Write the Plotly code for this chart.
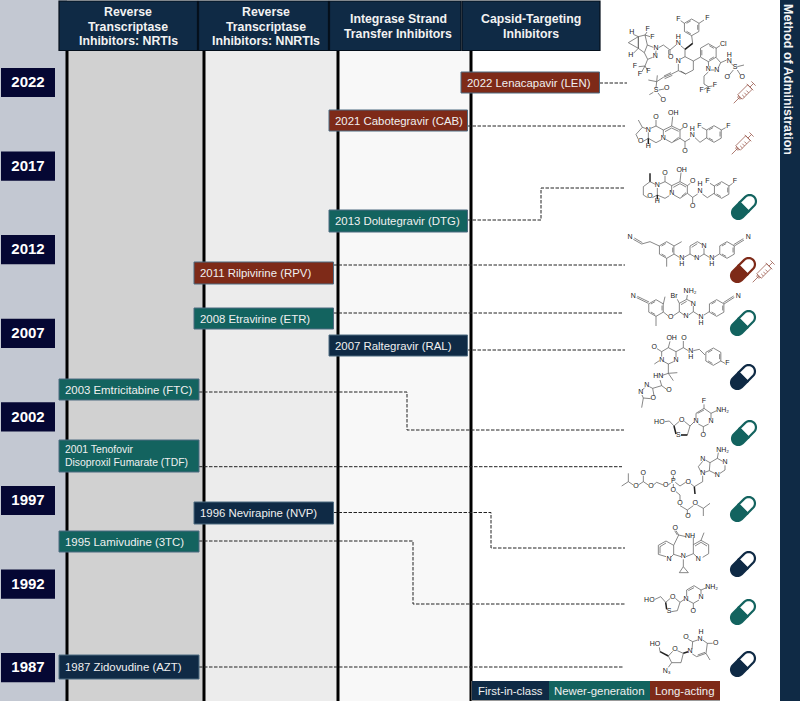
import numpy as np
import plotly.graph_objects as go

# ---------- data ----------
YEAR_TICKS = [2022, 2017, 2012, 2007, 2002, 1997, 1992, 1987]
HEADERS = [["Reverse", "Transcriptase", "Inhibitors: NRTIs"], ["Reverse", "Transcriptase", "Inhibitors: NNRTIs"],
           ["Integrase Strand", "Transfer Inhibitors"], ["Capsid-Targeting", "Inhibitors"]]
DRUG_LABELS = [["2022 Lenacapavir (LEN)"], ["2021 Cabotegravir (CAB)"], ["2013 Dolutegravir (DTG)"], ["2011 Rilpivirine (RPV)"],
               ["2008 Etravirine (ETR)"], ["2007 Raltegravir (RAL)"], ["2003 Emtricitabine (FTC)"],
               ["2001 Tenofovir", "Disoproxil Fumarate (TDF)"], ["1996 Nevirapine (NVP)"], ["1995 Lamivudine (3TC)"],
               ["1987 Zidovudine (AZT)"]]
DRUG_GROUP = ["long", "long", "newer", "long", "newer", "first", "newer", "newer", "first", "newer", "first"]
DRUG_COLUMN = [3, 2, 2, 1, 1, 2, 0, 0, 1, 0, 0]
DRUG_ADMIN = [("syringe",), ("syringe",), ("pill",), ("pill", "syringe"), ("pill",), ("pill",), ("pill",), ("pill",),
              ("pill",), ("pill",), ("pill",)]
LEGEND = [("first", "First-in-class"), ("newer", "Newer-generation"), ("long", "Long-acting")]

# ---------- layout (pixels of the page, separate from the data) ----------
NAVY, MIDNIGHT, TEAL, RED = "#0f2a45", "#050733", "#13635f", "#7e2a18"
GROUP_COLOR = {"first": NAVY, "newer": TEAL, "long": RED}
FONT = "Liberation Sans, Arial, sans-serif"
PX_PER_YEAR = 16.72
Y_TOP, Y_BOTTOM = 2022 + 82.5 / PX_PER_YEAR, 2022 - 618.5 / PX_PER_YEAR
COL_EDGE = [67, 204, 338, 471]
COL_FILL = ["#d1d1d1", "#ececec", "#f8f8f8"]
HEAD_X = [(59, 197.5), (198.5, 328.5), (329.5, 461), (462, 600)]
HEAD_CX = [128, 266, 398, 531]
BOX_X = [(59, 199), (194, 333.5), (329, 467.5), (461, 599.5)]
BOX_Y = [(72, 93), (110, 131), (210, 232), (262, 284), (308, 329), (335, 356), (379, 400), (440, 472), (502, 524),
         (531, 552), (655, 679)]
BOX_FONT = [11.4, 11.4, 11.4, 11.4, 11.4, 11.4, 11.4, 10.4, 11.4, 11.4, 11.4]
LINK_PATH = [[(83,), (627,)], [(126,), (625,)], [(220,), (541, 188), (625,)], [(265,), (625,)], [(313,), (623,)],
             [(350,), (625,)], [(392,), (407, 430), (624,)], [(466.7,), (622,)], [(512.5,), (491, 548), (625,)],
             [(541,), (413, 604), (625,)], [(667,), (624,)]]
PILL_C = {2: (744, 207), 3: (743, 270), 4: (743, 323), 5: (743, 377), 6: (744, 433), 7: (743, 509), 8: (743, 564),
          9: (743, 612), 10: (743, 664)}
SYR_C = {0: (745, 92), 1: (743, 143), 3: (764, 271)}

fig = go.Figure()
shapes, annotations = [], []


def rect(x0, x1, y0, y1, fill, line=None, lw=1, yref="y2"):
    shapes.append(dict(type="rect", xref="x", yref=yref, x0=x0, x1=x1, y0=y0, y1=y1, fillcolor=fill,
                       line=dict(color=line or fill, width=lw if line else 0), layer="below"))


def seg(pts, color, width, dash=None):
    path = "M" + "L".join(f"{x:.2f},{y:.2f}" for x, y in pts)
    shapes.append(dict(type="path", xref="x", yref="y2", path=path,
                       line=dict(color=color, width=width, dash=dash), layer="below"))


def label(x, y, text, size, color="#f2f2f2", bold=False, xanchor="center", angle=0, yref="y2", align="center"):
    annotations.append(dict(x=x, y=y, xref="x", yref=yref, text=f"<b>{text}</b>" if bold else text, showarrow=False,
                            font=dict(family=FONT, size=size, color=color), xanchor=xanchor, yanchor="middle",
                            textangle=angle, align=align))


# background strips
rect(0, COL_EDGE[0], 0, 701, "#c3c8d2")
for i, f in enumerate(COL_FILL):
    rect(COL_EDGE[i], COL_EDGE[i + 1], 51, 701, f)
for x in COL_EDGE:
    seg([(x, 51), (x, 701)], "#000000", 3)
rect(780, 800, 0, 701, NAVY)
label(788.5, 79.5, "Method of Administration", 12.5, "#f4f4f4", True, angle=90)

# headers
for (x0, x1), cx, h in zip(HEAD_X, HEAD_CX, HEADERS):
    rect(x0, x1, 1, 50.5, NAVY, "#05101c", 1.2)
    start = 26.5 - 14.6 * (len(h) - 1) / 2
    for k, line in enumerate(h):
        label(cx, start + 14.6 * k, line, 12.3, "#f2f2f2", True)

# connectors
for i, path in enumerate(LINK_PATH):
    y = path[0][0]
    pts = [(BOX_X[DRUG_COLUMN[i]][1], y)]
    for p in path[1:]:
        if len(p) == 2:
            pts += [(p[0], y), (p[0], p[1])]
            y = p[1]
        else:
            pts.append((p[0], y))
    seg(pts, "#222222", 1, "3.5px,1.5px")

# year boxes, placed on the year axis
for yr in YEAR_TICKS:
    rect(1, 55, yr + 14.6 / PX_PER_YEAR, yr - 14.6 / PX_PER_YEAR, MIDNIGHT, yref="y")
fig.add_trace(go.Scatter(x=[28] * len(YEAR_TICKS), y=[y - 1 / PX_PER_YEAR for y in YEAR_TICKS], mode="text",
                         text=[f"<b>{y}</b>" for y in YEAR_TICKS],
                         textfont=dict(family=FONT, size=15, color="#ffffff"), xaxis="x", yaxis="y", hoverinfo="skip",
                         showlegend=False))

# drug boxes
for lab, grp, col, (y0, y1), fs in zip(DRUG_LABELS, DRUG_GROUP, DRUG_COLUMN, BOX_Y, BOX_FONT):
    x0, x1 = BOX_X[col]
    rect(x0, x1, y0, y1, GROUP_COLOR[grp], "#4d6a80", 1)
    start = (y0 + y1) / 2 - 6.2 * (len(lab) - 1)
    for k, line in enumerate(lab):
        label(x0 + 3.5, start + 12.4 * k, line, fs, "#f0f0f0", xanchor="left", align="left")

# legend
LEG_X = [472, 549, 650, 720]
rect(LEG_X[0] - 0.5, LEG_X[3], 681, 701, "#999999")
for i, (g, t) in enumerate(LEGEND):
    rect(LEG_X[i], LEG_X[i + 1], 681, 700, GROUP_COLOR[g])
    label((LEG_X[i] + LEG_X[i + 1]) / 2, 691, t, 11.4, "#f0f0f0")

# pills and syringes
TH = np.radians(45)


def rot(cx, cy, u, v):
    u, v = np.asarray(u, float), np.asarray(v, float)
    return cx + u * np.cos(TH) + v * np.sin(TH), cy - u * np.sin(TH) + v * np.cos(TH)


def poly(xs, ys, close=True):
    return "M" + "L".join(f"{x:.2f},{y:.2f}" for x, y in zip(xs, ys)) + ("Z" if close else "")


def pill(cx, cy, color):
    L, R = 8, 6.3
    a = np.linspace(np.pi / 2, -np.pi / 2, 17)
    u_half = np.concatenate([[0], L + R * np.cos(a), [0]])
    v_half = np.concatenate([[R], R * np.sin(a), [-R]])
    for sign, fill in ((1, "#ffffff"), (-1, color)):
        x, y = rot(cx, cy, sign * u_half, v_half)
        shapes.append(dict(type="path", xref="x", yref="y2", path=poly(x, y), fillcolor=fill,
                           line=dict(color=color, width=2.2), layer="above"))


def syringe(cx, cy, color):
    parts = [([-7, 7, 7, -7], [3.2, 3.2, -3.2, -3.2], True), ([-16, -7], [0, 0], False), ([7, 12], [0, 0], False),
             ([12, 12], [-3, 3], False), ([7, 7], [-4.6, 4.6], False), ([-4, -4], [3.2, 0], False), ([-1, -1], [3.2, 0], False),
             ([2, 2], [3.2, 0], False), ([-7, -9, -9, -7], [2.2, 1, -1, -2.2], False)]
    for u, v, c in parts:
        x, y = rot(cx, cy, u, v)
        shapes.append(dict(type="path", xref="x", yref="y2", path=poly(x, y, c),
                           line=dict(color="#9a5a4e", width=0.8), layer="above"))


for i, admin in enumerate(DRUG_ADMIN):
    color = GROUP_COLOR[DRUG_GROUP[i]]
    if "pill" in admin:
        pill(*PILL_C[i], color)
    if "syringe" in admin:
        syringe(*SYR_C[i], RED)


# molecule drawings: traced skeleton and atoms, in crop units (1/3 px) with an origin
def ring(cx, cy, r, n=6, start=90):
    t = np.radians(start + np.arange(n + 1) * 360 / n)
    return [(cx + r * np.cos(a), cy - r * np.sin(a)) for a in t]


def arom(cx, cy, r, start=90):
    """A hexagon with its three inner double bonds."""
    inner = []
    for k in (0, 2, 4):
        a0, a1 = np.radians(start + k * 60 + 8), np.radians(start + (k + 1) * 60 - 8)
        inner.append([(cx + 0.78 * r * np.cos(a0), cy - 0.78 * r * np.sin(a0)),
                      (cx + 0.78 * r * np.cos(a1), cy - 0.78 * r * np.sin(a1))])
    return [ring(cx, cy, r, 6, start)] + inner


Z2, Z3, Z4 = (400, 0), (600, 220), (600, 440)
MOLS = [
    (Z2, [*arom(875, 82, 25), [(853, 70), (842, 62)], [(897, 70), (912, 60)], [(875, 107), (878, 130), (855, 148), (842, 137)],
          [(828, 135), (810, 150), (790, 135), (776, 143)], [(810, 150), (810, 164)], [(806, 150), (806, 164)],
          [(760, 142), (742, 135), (733, 158), (743, 178), (758, 172)], [(768, 152), (767, 163)],
          [(742, 135), (735, 105), (715, 110), (715, 145), (733, 158)], [(685, 128), (715, 110), (715, 145), (685, 128)],
          [(700, 103), (715, 110)], [(700, 160), (715, 145)], [(735, 105), (741, 96)], [(735, 105), (750, 110)],
          [(743, 178), (735, 198), (716, 200)], [(735, 198), (742, 210)], [(735, 198), (725, 216)],
          [(842, 177), (855, 170), (880, 183), (880, 210), (857, 222), (842, 213)], [(835, 192), (835, 212), (857, 222)],
          [(855, 148), (855, 170)], [(880, 183), (900, 172)], *arom(925, 158, 27, 30),
          [(948, 145), (960, 137)], [(925, 185), (926, 200)], [(933, 210), (943, 210)], [(955, 203), (962, 188), (948, 172)],
          [(962, 188), (980, 180)], [(993, 190), (1000, 197)], [(1000, 210), (987, 226)], [(1012, 210), (1022, 226)],
          [(1012, 200), (1032, 195)], [(925, 216), (912, 228), (912, 252), (925, 260)], [(925, 260), (912, 268)],
          [(925, 260), (938, 258)], [(925, 260), (925, 268)],
          [(835, 212), (815, 222), (790, 232), (770, 245)], [(813, 218), (792, 228)], [(817, 226), (794, 236)],
          [(770, 245), (745, 240)], [(770, 245), (772, 226)], [(770, 245), (768, 263)], [(776, 270), (793, 267)],
          [(774, 279), (785, 293)], [(760, 277), (748, 284)]],
     [[(878, 130), (855, 148)]],
     [("F", 835, 58), ("F", 922, 55), ("H", 835, 113), ("N", 835, 130), ("O", 812, 172), ("N", 768, 146), ("N", 766, 170),
      ("F", 743, 88), ("F", 757, 112), ("H", 695, 97), ("H", 692, 167), ("F", 705, 200), ("F", 745, 215), ("F", 720, 223),
      ("N", 835, 183), ("Cl", 970, 133), ("N", 925, 208), ("N", 950, 210), ("N", 988, 185), ("H", 988, 165), ("S", 1005, 203),
      ("O", 982, 233), ("O", 1027, 233), ("F", 905, 270), ("F", 945, 257), ("F", 925, 275), ("S", 768, 272), ("O", 800, 266),
      ("O", 790, 300)]),
    (Z2, [[(715, 360), (727, 382), (708, 403), (715, 418)], [(728, 425), (745, 415), (745, 397)], [(727, 382), (739, 386)],
          [(752, 385), (768, 378), (790, 390), (790, 408)], [(783, 420), (768, 428), (745, 415)], [(768, 378), (768, 360)],
          [(790, 390), (815, 378), (840, 390), (840, 415), (815, 428), (797, 418)], [(815, 378), (818, 350)],
          [(840, 390), (849, 383)], [(840, 415), (855, 425), (855, 445)], [(855, 425), (870, 416)],
          [(885, 413), (900, 427), (920, 413)], *arom(942, 402, 25), [(920, 390), (905, 382)], [(964, 390), (977, 383)],
          [(795, 395), (815, 384), (836, 394)], [(820, 424), (836, 412)]],
     [[(745, 415), (745, 432)]],
     [("O", 768, 352), ("OH", 820, 340), ("O", 855, 378), ("H", 877, 387), ("N", 877, 407), ("F", 898, 378), ("F", 985, 378),
      ("N", 745, 390), ("N", 790, 415), ("O", 722, 423), ("H", 745, 440), ("O", 855, 453)]),
    (Z2, [[(750, 545), (730, 560), (730, 585), (743, 593)], [(757, 593), (772, 585), (772, 564)], [(750, 545), (766, 553)],
          [(779, 552), (795, 545), (815, 557), (815, 574)], [(808, 587), (795, 595), (772, 585)], [(795, 545), (795, 527)],
          [(815, 557), (840, 545), (862, 557), (862, 580), (840, 595), (822, 585)], [(840, 545), (843, 518)], [(862, 557), (871, 550)],
          [(862, 580), (878, 592), (878, 610)], [(878, 592), (893, 582)], [(907, 582), (922, 593), (942, 580)], *arom(965, 570, 25),
          [(943, 558), (930, 550)], [(987, 558), (998, 550)], [(845, 589), (858, 578)], [(820, 562), (840, 551), (858, 561)]],
     [[(750, 520), (750, 545)], [(772, 585), (772, 598)]],
     [("O", 795, 520), ("OH", 845, 510), ("O", 878, 545), ("H", 900, 554), ("N", 900, 574), ("F", 922, 545), ("F", 1005, 545),
      ("N", 772, 557), ("N", 815, 580), ("O", 750, 590), ("H", 772, 605), ("O", 878, 618)]),
    (Z3, [[(100, 58), (125, 72), (150, 65), (178, 78)], [(103, 54), (127, 68)], *arom(200, 90, 25), [(222, 78), (245, 65)],
          [(200, 115), (200, 140)], [(222, 102), (238, 112)], [(252, 112), (270, 102), (270, 78), (292, 65), (306, 73)],
          [(312, 85), (312, 102), (298, 111)], [(285, 111), (270, 102)], [(312, 102), (328, 112)], [(342, 112), (358, 102)],
          [(275, 82), (292, 71)], *arom(381, 90, 25), [(403, 78), (432, 60)], [(401, 74), (430, 56)]],
     [],
     [("N", 90, 52), ("N", 245, 115), ("H", 245, 133), ("N", 312, 78), ("N", 290, 115), ("N", 335, 115), ("H", 335, 133), ("N", 445, 52)]),
    (Z3, [[(110, 233), (145, 250)], [(112, 229), (147, 246)], *arom(168, 264, 25), [(190, 252), (195, 230)], [(168, 289), (168, 318)],
          [(190, 276), (205, 288)], [(220, 287), (238, 275), (238, 250), (260, 238), (274, 245)], [(280, 258), (280, 275), (266, 285)],
          [(252, 285), (238, 275)], [(243, 254), (260, 244)], [(238, 250), (232, 238)], [(260, 238), (262, 225)], [(280, 275), (296, 285)], [(312, 285), (328, 275)],
          *arom(350, 264, 25), [(372, 252), (403, 232)], [(370, 248), (401, 228)]],
     [],
     [("N", 100, 228), ("O", 212, 292), ("Br", 222, 228), ("N", 258, 290), ("N", 280, 252), ("NH₂", 270, 215), ("N", 303, 292),
      ("H", 303, 310), ("N", 415, 228)]),
    (Z3, [[(185, 410), (185, 395), (205, 383), (228, 395), (228, 412)], [(221, 425), (205, 432), (192, 425)], [(185, 395), (171, 386)],
          [(205, 383), (210, 364)], [(228, 395), (250, 383), (250, 363)], [(250, 383), (265, 392)], [(280, 392), (298, 388), (315, 405)],
          *arom(340, 410, 26), [(362, 423), (375, 430)], [(178, 422), (163, 432)], [(205, 432), (205, 460), (187, 466)],
          [(205, 460), (232, 458)], [(205, 460), (220, 482)], [(180, 480), (185, 497), (200, 508)], [(185, 497), (158, 505), (148, 500)],
          [(158, 505), (162, 527)], [(134, 503), (126, 511)], [(126, 525), (130, 534), (152, 536)], [(130, 534), (125, 563)]],
     [],
     [("OH", 215, 355), ("O", 252, 355), ("O", 163, 383), ("N", 272, 395), ("H", 272, 413), ("F", 382, 431), ("N", 185, 420), ("N", 228, 420),
      ("HN", 175, 470), ("O", 207, 510), ("N", 140, 497), ("N", 122, 518), ("O", 160, 535)]),
    (Z3, [[(195, 605), (208, 603), (222, 618), (238, 604)], [(253, 604), (270, 618), (262, 645), (243, 645)],
          [(270, 618), (282, 606)], [(288, 598), (288, 580), (312, 565), (333, 580), (333, 597)], [(326, 612), (310, 620), (295, 612)],
          [(312, 565), (312, 553)], [(333, 580), (350, 572)], [(310, 620), (310, 637)], [(293, 580), (312, 570)]],
     [[(228, 642), (222, 618)], [(262, 645), (243, 645)]],
     [("HO", 178, 608), ("O", 245, 600), ("S", 235, 645), ("N", 288, 605), ("F", 312, 545), ("NH₂", 368, 570), ("N", 333, 605),
      ("O", 310, 645)]),
    (Z4, [[(308, 64), (295, 80), (303, 96)], [(314, 97), (328, 92), (330, 68), (316, 60)], [(330, 68), (352, 55), (368, 64)],
          [(375, 76), (375, 90), (360, 100)], [(346, 101), (328, 92)], [(352, 55), (355, 38)], [(308, 107), (308, 125), (283, 140)],
          [(283, 140), (272, 131)], [(257, 127), (240, 138), (226, 127)], [(220, 118), (220, 107)], [(212, 130), (205, 134)],
          [(190, 135), (170, 127), (160, 135)], [(145, 135), (130, 125), (130, 107)], [(130, 125), (115, 135)],
          [(100, 135), (85, 125), (65, 138)], [(85, 125), (85, 100)], [(220, 132), (220, 143)], [(228, 155), (240, 165), (240, 183)],
          [(240, 197), (262, 210), (262, 224)], [(262, 210), (280, 197)], [(292, 195), (310, 205), (330, 190)], [(310, 205), (310, 228)]],
     [[(283, 140), (285, 162)]],
     [("NH₂", 368, 30), ("N", 308, 58), ("N", 308, 100), ("N", 375, 68), ("N", 352, 105), ("O", 265, 127), ("P", 220, 125), ("O", 220, 100),
      ("O", 197, 137), ("O", 153, 138), ("O", 130, 100), ("O", 108, 140), ("O", 220, 150), ("O", 240, 190), ("O", 264, 230), ("O", 286, 190)]),
    (Z4, [[(198, 350), (175, 343), (175, 316), (198, 303), (221, 316), (221, 343), (212, 352)], [(180, 340), (180, 320), (198, 309)],
          [(221, 316), (236, 285), (258, 290)], [(236, 285), (228, 272)], [(232, 285), (224, 272)], [(280, 292), (280, 314), (303, 301), (326, 314), (326, 341), (308, 352)],
          [(280, 314), (280, 341), (290, 350)], [(221, 343), (243, 350)], [(258, 350), (280, 341)], [(303, 301), (312, 278)],
          [(285, 318), (303, 307), (321, 318)], [(250, 358), (250, 380), (238, 398), (265, 398), (250, 380)]],
     [],
     [("O", 226, 265), ("NH", 270, 290), ("N", 207, 358), ("N", 250, 350), ("N", 295, 358)]),
    (Z4, [[(165, 478), (182, 470), (197, 487), (211, 475)], [(226, 475), (240, 487), (232, 512), (214, 515)],
          [(240, 487), (252, 479)], [(260, 470), (260, 450), (282, 437), (303, 450), (303, 463)], [(297, 480), (280, 490), (265, 482)],
          [(303, 450), (320, 443)], [(280, 490), (280, 507)], [(265, 452), (282, 443)]],
     [[(200, 508), (197, 487)]],
     [("HO", 148, 480), ("O", 218, 472), ("S", 207, 515), ("N", 258, 478), ("NH₂", 335, 442), ("N", 303, 472), ("O", 280, 515)]),
    (Z4, [[(178, 622), (180, 635)], [(205, 648), (218, 634)], [(232, 632), (250, 640), (243, 668), (215, 668), (205, 648)], [(215, 668), (205, 682)],
          [(276, 628), (278, 605), (293, 600)], [(308, 600), (322, 610), (318, 640), (290, 650), (277, 642)],
          [(278, 605), (265, 598)], [(322, 610), (338, 610)], [(318, 640), (330, 660)], [(293, 645), (315, 637)]],
     [[(180, 635), (205, 648)], [(250, 640), (264, 635)]],
     [("HO", 165, 612), ("O", 225, 628), ("N₃", 200, 695), ("N", 270, 635), ("N", 300, 598), ("H", 303, 578), ("O", 258, 592), ("O", 347, 610)]),
]


def flat(ox, oy, chains):
    xs, ys = [], []
    for ch in chains:
        for x, y in ch:
            xs.append(ox + x / 3)
            ys.append(oy + y / 3)
        xs.append(None)
        ys.append(None)
    return xs, ys


for (ox, oy), chains, bold, atoms in MOLS:
    xs, ys = flat(ox, oy, chains)
    fig.add_trace(go.Scatter(x=xs, y=ys, mode="lines", line=dict(color="#555555", width=0.7), xaxis="x", yaxis="y2",
                             hoverinfo="skip", showlegend=False))
    if bold:
        xs, ys = flat(ox, oy, bold)
        fig.add_trace(go.Scatter(x=xs, y=ys, mode="lines", line=dict(color="#222222", width=1.5), xaxis="x", yaxis="y2",
                                 hoverinfo="skip", showlegend=False))
    fig.add_trace(go.Scatter(x=[ox + a[1] / 3 for a in atoms], y=[oy + a[2] / 3 for a in atoms], mode="text",
                             text=[a[0] for a in atoms], textfont=dict(family=FONT, size=7, color="#222222"), xaxis="x",
                             yaxis="y2", hoverinfo="skip", showlegend=False))

fig.update_layout(
    width=800, height=701, margin=dict(l=0, r=0, t=0, b=0), paper_bgcolor="#ffffff", plot_bgcolor="#ffffff",
    shapes=shapes, annotations=annotations, showlegend=False,
    xaxis=dict(range=[0, 800], visible=False, fixedrange=True),
    yaxis=dict(range=[Y_BOTTOM, Y_TOP], visible=False, fixedrange=True),
    yaxis2=dict(range=[701, 0], visible=False, overlaying="y", fixedrange=True),
)
fig.write_html("out.html", config={"displayModeBar": False},
               post_script="document.body.style.margin='0';document.documentElement.style.overflow='hidden';")
